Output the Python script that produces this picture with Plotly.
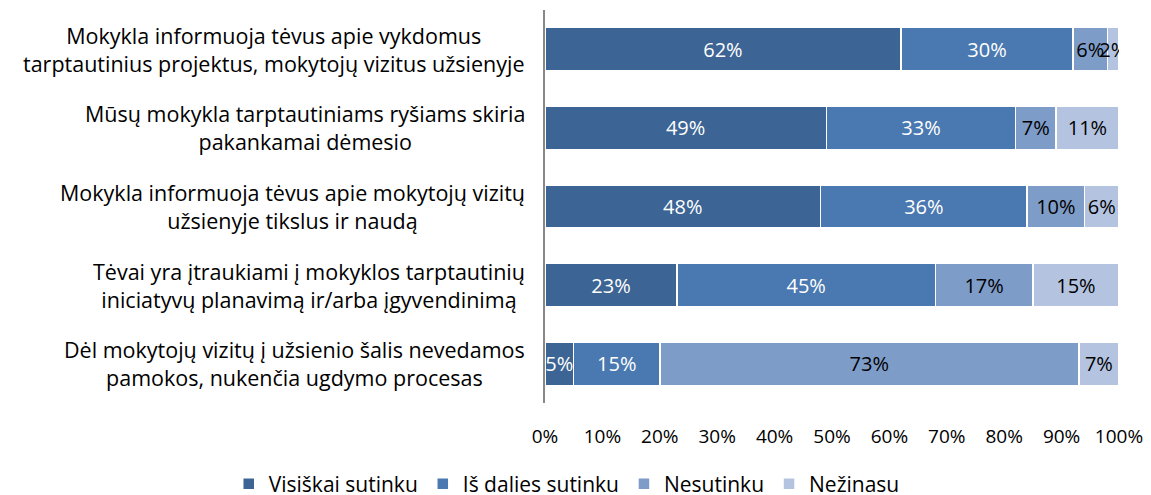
import plotly.graph_objects as go

categories = [
    "Mokykla informuoja tėvus apie vykdomus<br>tarptautinius projektus, mokytojų vizitus užsienyje",
    "Mūsų mokykla tarptautiniams ryšiams skiria<br>pakankamai dėmesio",
    "Mokykla informuoja tėvus apie mokytojų vizitų<br>užsienyje tikslus ir naudą",
    "Tėvai yra įtraukiami į mokyklos tarptautinių<br>iniciatyvų planavimą ir/arba įgyvendinimą",
    "Dėl mokytojų vizitų į užsienio šalis nevedamos<br>pamokos, nukenčia ugdymo procesas",
]
series_names = ["Visiškai sutinku", "Iš dalies sutinku", "Nesutinku", "Nežinasu"]
visiskai = [62, 49, 48, 23, 5]
is_dalies = [30, 33, 36, 45, 15]
nesutinku = [6, 7, 10, 17, 73]
nezinasu = [2, 11, 6, 15, 7]
x_ticks = [0, 10, 20, 30, 40, 50, 60, 70, 80, 90, 100]

colors = ["#3C6494", "#4A78B0", "#7E9CC8", "#B4C4E0"]
text_colors = ["white", "white", "black", "black"]
FONT = "Open Sans, Noto Sans, sans-serif"

fig = go.Figure()
for name, vals, col, tcol in zip(series_names, [visiskai, is_dalies, nesutinku, nezinasu], colors, text_colors):
    fig.add_trace(go.Bar(
        y=categories,
        x=vals,
        name=name,
        orientation="h",
        marker=dict(color=col, line=dict(color="white", width=1.5)),
        text=[f"{v}%" for v in vals],
        textposition="inside",
        insidetextanchor="middle",
        textangle=0,
        constraintext="none",
        textfont=dict(color=tcol, size=20, family=FONT),
    ))

# category labels: block right-aligned, lines centred
for cat in categories:
    fig.add_annotation(
        x=0, xref="paper", y=cat, yref="y",
        text=cat, showarrow=False,
        xanchor="right", align="center", xshift=-18,
        font=dict(size=21.5, family=FONT, color="black"),
    )

fig.update_layout(
    barmode="stack",
    bargap=0.45,
    width=1151, height=495,
    margin=dict(l=537, r=40, t=2, b=100, autoexpand=False),
    plot_bgcolor="white", paper_bgcolor="white",
    font=dict(family=FONT, size=19, color="black"),
    legend=dict(orientation="h", x=-0.551, xanchor="left", y=-0.154, yanchor="top",
                font=dict(size=21, family=FONT), traceorder="normal"),
    xaxis=dict(range=[0, 100], tickvals=x_ticks, ticktext=[f"{t}%" for t in x_ticks],
               showgrid=False, zeroline=False, showline=False,
               ticks="outside", ticklen=16, tickcolor="rgba(0,0,0,0)",
               tickfont=dict(size=19, family=FONT)),
    yaxis=dict(autorange="reversed", showticklabels=False, showgrid=False,
               showline=True, linecolor="#888888", linewidth=1.5, ticks=""),
)

fig.write_html("out.html")
